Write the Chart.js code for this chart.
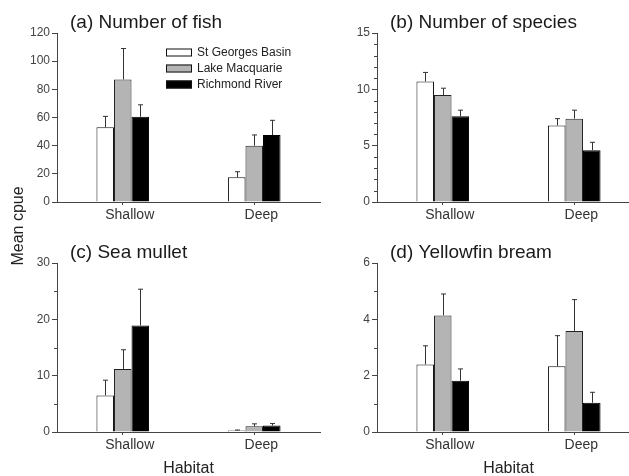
<!DOCTYPE html>
<html>
<head>
<meta charset="utf-8">
<script src="https://cdn.jsdelivr.net/npm/chart.js@4/dist/chart.umd.min.js"></script>
<style>
  html, body { margin: 0; padding: 0; background: #fff; overflow: hidden; }
  #wrap { position: relative; width: 629px; height: 476px; overflow: hidden; background: #fff; }
  #wrap canvas { position: absolute; }
  #ylab {
    position: absolute; left: -41px; top: 216px; width: 120px; height: 20px;
    line-height: 20px; text-align: center; transform: rotate(-90deg);
    font: 16px "Liberation Sans", Arial, sans-serif; color: #222; white-space: nowrap;
  }
</style>
</head>
<body>
<div id="wrap">
  <canvas id="cA" width="330" height="235" style="left:0px;top:0px"></canvas>
  <canvas id="cB" width="330" height="235" style="left:320px;top:0px"></canvas>
  <canvas id="cC" width="330" height="250" style="left:0px;top:230px"></canvas>
  <canvas id="cD" width="330" height="250" style="left:320px;top:230px"></canvas>
  <div id="ylab">Mean cpue</div>
</div>
<script>
// Habitats on the x axis and the three estuaries sampled
const habitats = ['Shallow', 'Deep'];
const sites = ['St Georges Basin', 'Lake Macquarie', 'Richmond River'];

// Mean cpue per site, [Shallow, Deep], and the standard error drawn above each bar
const fishMean = [[53, 17.5], [87, 40], [60.5, 47.5]];
const fishErr  = [[7.8, 4], [22, 7.6], [8.5, 10.5]];

const speciesMean = [[10.7, 6.8], [9.5, 7.4], [7.6, 4.6]];
const speciesErr  = [[0.8, 0.6], [0.6, 0.75], [0.55, 0.7]];

const mulletMean = [[6.5, 0.25], [11.2, 1.0], [18.9, 1.15]];
const mulletErr  = [[2.7, 0.1], [3.4, 0.45], [6.45, 0.35]];

const breamMean = [[2.4, 2.33], [4.14, 3.59], [1.82, 1.04]];
const breamErr  = [[0.66, 1.09], [0.76, 1.11], [0.42, 0.37]];

// y-axis ranges: maximum, labelled step, minor tick step
const fishAxis = [120, 20, 0];
const speciesAxis = [15, 5, 1];
const mulletAxis = [30, 10, 5];
const breamAxis = [6, 2, 1];

const FONT = '"Liberation Sans", Arial, sans-serif';
const AXIS = '#444';
const siteFill = ['#ffffff', '#b4b4b4', '#000000'];
const siteEdge = ['#111111', '#222222', '#000000'];

// Upper standard-error whiskers
const errorBars = {
  id: 'errorBars',
  afterDatasetsDraw(chart) {
    const ctx = chart.ctx, y = chart.scales.y;
    ctx.save();
    ctx.strokeStyle = '#333';
    ctx.lineWidth = 1;
    chart.data.datasets.forEach((ds, i) => {
      chart.getDatasetMeta(i).data.forEach((bar, j) => {
        const top = y.getPixelForValue(ds.data[j] + ds.err[j]);
        const x = Math.round(bar.x) + 0.5;
        ctx.beginPath();
        ctx.moveTo(x, bar.y);
        ctx.lineTo(x, top);
        ctx.moveTo(x - 2.5, top);
        ctx.lineTo(x + 2.5, top);
        ctx.stroke();
      });
    });
    ctx.restore();
  }
};

// Panel heading, left aligned just inside the y axis
const panelTitle = {
  id: 'panelTitle',
  afterDraw(chart, args, opts) {
    const ctx = chart.ctx, a = chart.chartArea;
    ctx.save();
    ctx.font = '19px ' + FONT;
    ctx.fillStyle = '#1a1a1a';
    ctx.textBaseline = 'alphabetic';
    ctx.textAlign = 'left';
    ctx.fillText(opts.text, a.left + 13, a.top - 5);
    ctx.restore();
  }
};

// Site key drawn inside the first panel
const siteKey = {
  id: 'siteKey',
  afterDraw(chart, args, opts) {
    if (!opts.display) return;
    const ctx = chart.ctx, a = chart.chartArea;
    ctx.save();
    ctx.font = '12px ' + FONT;
    ctx.textBaseline = 'middle';
    ctx.textAlign = 'left';
    chart.data.datasets.forEach((ds, i) => {
      const cy = a.top + 19.5 + i * 16;
      const x = a.left + 109;
      ctx.fillStyle = ds.backgroundColor;
      ctx.fillRect(x, cy - 4, 26, 8);
      ctx.strokeStyle = '#111';
      ctx.lineWidth = 1;
      ctx.strokeRect(x + 0.5, cy - 4 + 0.5, 25, 7);
      ctx.fillStyle = '#222';
      ctx.fillText(ds.label, x + 31, cy + 0.5);
    });
    ctx.restore();
  }
};

// Short unlabelled ticks between the labelled ones
const minorTicks = {
  id: 'minorTicks',
  afterDraw(chart, args, opts) {
    const step = opts.step, major = opts.major;
    if (!step) return;
    const y = chart.scales.y, ctx = chart.ctx;
    const x0 = Math.round(chart.chartArea.left);
    ctx.save();
    ctx.strokeStyle = AXIS;
    ctx.lineWidth = 1;
    for (let v = 0; v <= y.max + 1e-9; v += step) {
      if (Math.abs(v / major - Math.round(v / major)) < 1e-6) continue;
      const py = Math.round(y.getPixelForValue(v)) + 0.5;
      ctx.beginPath();
      ctx.moveTo(x0 - 3, py);
      ctx.lineTo(x0, py);
      ctx.stroke();
    }
    ctx.restore();
  }
};

function makePanel(id, title, mean, err, axis, opts) {
  const [max, step, minor] = axis;
  return new Chart(document.getElementById(id), {
    type: 'bar',
    data: {
      labels: habitats,
      datasets: sites.map((s, i) => ({
        label: s,
        data: mean[i],
        err: err[i],
        backgroundColor: siteFill[i],
        borderColor: siteEdge[i],
        borderWidth: 1,
        borderSkipped: 'bottom'
      }))
    },
    options: {
      responsive: false,
      animation: false,
      devicePixelRatio: 1,
      layout: { padding: { top: 33, right: 10, left: 0, bottom: opts.padBottom } },
      datasets: { bar: { categoryPercentage: 0.4, barPercentage: 1 } },
      plugins: {
        legend: { display: false },
        tooltip: { enabled: false },
        panelTitle: { text: title },
        siteKey: { display: !!opts.key },
        minorTicks: { step: minor, major: step }
      },
      scales: {
        x: {
          grid: { display: true, offset: false, drawOnChartArea: false, drawTicks: true, tickLength: 3, color: AXIS },
          border: { display: true, color: AXIS, width: 1 },
          ticks: { font: { size: 14, family: FONT }, color: '#333', padding: 2, labelOffset: 7, maxRotation: 0 },
          title: {
            display: !!opts.xTitle, text: opts.xTitle || '',
            font: { size: 16, family: FONT }, color: '#222', padding: { top: 0, bottom: 2 }
          },
          afterFit(s) { s.height = opts.xHeight; }
        },
        y: {
          min: 0, max: max,
          grid: { display: true, drawOnChartArea: false, drawTicks: true, tickLength: 5, color: AXIS },
          border: { display: true, color: AXIS, width: 1 },
          ticks: { stepSize: step, font: { size: 12, family: FONT }, color: '#444', padding: 2 },
          afterFit(s) { s.width = 57; }
        }
      }
    },
    plugins: [errorBars, panelTitle, siteKey, minorTicks]
  });
}

makePanel('cA', '(a) Number of fish', fishMean, fishErr, fishAxis, { key: true, xHeight: 25, padBottom: 8 });
makePanel('cB', '(b) Number of species', speciesMean, speciesErr, speciesAxis, { xHeight: 25, padBottom: 8 });
makePanel('cC', '(c) Sea mullet', mulletMean, mulletErr, mulletAxis, { xTitle: 'Habitat', xHeight: 48, padBottom: 0 });
makePanel('cD', '(d) Yellowfin bream', breamMean, breamErr, breamAxis, { xTitle: 'Habitat', xHeight: 48, padBottom: 0 });
</script>
</body>
</html>
